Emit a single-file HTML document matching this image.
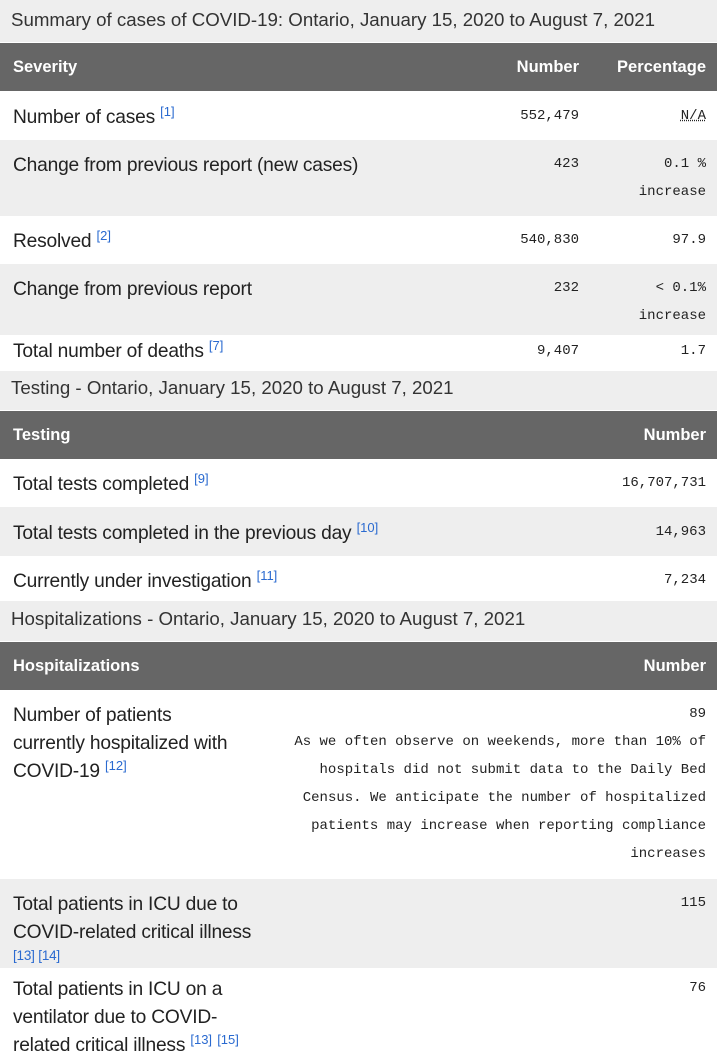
<!DOCTYPE html>
<html><head><meta charset="utf-8"><style>
body{margin:0;width:717px;height:1064px;position:relative;background:#fff;font-family:"Liberation Sans",sans-serif;color:#222;overflow:hidden}
.bg{position:absolute;left:0;width:717px}
.g{background:#eee}.h{background:#666}
.t{position:absolute;white-space:nowrap;font-size:19.2px;line-height:28px;letter-spacing:-0.2px;margin-top:2px}
.cap{position:absolute;left:11px;font-size:18.7px;color:#333;white-space:nowrap}
.hd{position:absolute;color:#fff;font-weight:bold;font-size:16.5px;white-space:nowrap}
.m{position:absolute;font-family:"Liberation Mono",monospace;font-size:14px;right:11px;text-align:right;line-height:28px;white-space:nowrap;color:#222}
.n{right:138px}
sup{color:#2a6ad0;font-size:13px;vertical-align:top;position:relative;top:-6px;letter-spacing:0}
.r{color:#2a6ad0;font-size:13.5px}
</style></head><body>
<div class="bg g" style="top:0;height:42px"></div>
<div class="cap" style="top:9px">Summary of cases of COVID-19: Ontario, January 15, 2020 to August 7, 2021</div>
<div class="bg h" style="top:43px;height:48px"></div>
<div class="hd" style="top:58px;left:13px">Severity</div>
<div class="hd" style="top:58px;right:138px">Number</div>
<div class="hd" style="top:58px;right:11px">Percentage</div>
<div class="t" style="top:102px;left:13px">Number of cases <sup>[1]</sup></div>
<div class="m n" style="top:102px">552,479</div>
<div class="m" style="top:102px;text-decoration:underline dotted">N/A</div>
<div class="bg g" style="top:140px;height:76px"></div>
<div class="t" style="top:150px;left:13px">Change from previous report (new cases)</div>
<div class="m n" style="top:150px">423</div>
<div class="m" style="top:150px">0.1 %<br>increase</div>
<div class="t" style="top:226px;left:13px">Resolved <sup>[2]</sup></div>
<div class="m n" style="top:226px">540,830</div>
<div class="m" style="top:226px">97.9</div>
<div class="bg g" style="top:264px;height:71px"></div>
<div class="t" style="top:274px;left:13px">Change from previous report</div>
<div class="m n" style="top:274px">232</div>
<div class="m" style="top:274px">&lt; 0.1%<br>increase</div>
<div class="t" style="top:336px;left:13px">Total number of deaths <sup>[7]</sup></div>
<div class="m n" style="top:337px">9,407</div>
<div class="m" style="top:337px">1.7</div>
<div class="bg g" style="top:371px;height:39px"></div>
<div class="cap" style="top:377px">Testing - Ontario, January 15, 2020 to August 7, 2021</div>
<div class="bg h" style="top:411px;height:48px"></div>
<div class="hd" style="top:426px;left:13px">Testing</div>
<div class="hd" style="top:426px;right:11px">Number</div>
<div class="t" style="top:469px;left:13px">Total tests completed <sup>[9]</sup></div>
<div class="m" style="top:469px">16,707,731</div>
<div class="bg g" style="top:507px;height:49px"></div>
<div class="t" style="top:518px;left:13px">Total tests completed in the previous day <sup>[10]</sup></div>
<div class="m" style="top:518px">14,963</div>
<div class="t" style="top:566px;left:13px">Currently under investigation <sup>[11]</sup></div>
<div class="m" style="top:566px">7,234</div>
<div class="bg g" style="top:601px;height:40px"></div>
<div class="cap" style="top:608px">Hospitalizations - Ontario, January 15, 2020 to August 7, 2021</div>
<div class="bg h" style="top:642px;height:48px"></div>
<div class="hd" style="top:657px;left:13px">Hospitalizations</div>
<div class="hd" style="top:657px;right:11px">Number</div>
<div class="t" style="top:700px;left:13px">Number of patients<br>currently hospitalized with<br>COVID-19 <sup>[12]</sup></div>
<div class="m" style="top:700px">89<br>As we often observe on weekends, more than 10% of<br>hospitals did not submit data to the Daily Bed<br>Census. We anticipate the number of hospitalized<br>patients may increase when reporting compliance<br>increases</div>
<div class="bg g" style="top:879px;height:89px"></div>
<div class="t" style="top:889px;left:13px">Total patients in ICU due to<br>COVID-related critical illness</div>
<div class="t r" style="top:940px;left:13px;line-height:28px">[13] [14]</div>
<div class="m" style="top:889px">115</div>
<div class="t" style="top:974px;left:13px">Total patients in ICU on a<br>ventilator due to COVID-<br>related critical illness <sup>[13]</sup> <sup>[15]</sup></div>
<div class="m" style="top:974px">76</div>
</body></html>
